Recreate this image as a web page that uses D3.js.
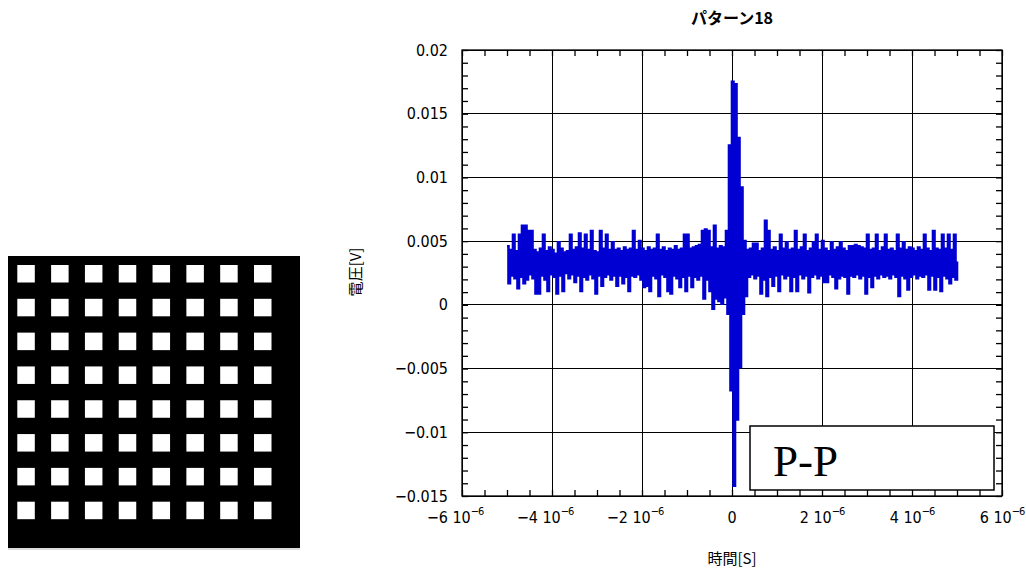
<!DOCTYPE html>
<html><head><meta charset="utf-8">
<script src="https://cdn.jsdelivr.net/npm/d3@7"></script>
<style>body{margin:0;background:#fff}svg{display:block}</style>
</head><body>
<svg id="c" width="1026" height="574"></svg>
<script>
// ---- data ----
const chartTitle = "パターン18";
const xLabel = "時間[S]";
const yLabel = "電圧[V]";
const annotation = "P-P";
const xDomain = [-6e-6, 6e-6];
const yDomain = [-0.015, 0.02];
const xTicks = [-6e-6, -4e-6, -2e-6, 0, 2e-6, 4e-6, 6e-6];
const xTickMantissa = ["−6", "−4", "−2", "0", "2", "4", "6"];
const xTickExponent = ["−6", "−6", "−6", "", "−6", "−6", "−6"];
const yTicks = [-0.015, -0.01, -0.005, 0, 0.005, 0.01, 0.015, 0.02];
const yTickLabels = ["−0.015", "−0.01", "−0.005", "0", "0.005", "0.01", "0.015", "0.02"];
const sampleStart = -5e-6;          // s
const sampleInterval = 1e-5 / 300;  // s
const signal_mV = [
  4.6,1.7,4.3,2.3,5.5,2.1,4.2,1.3,5.5,2.2,
  6.2,1.7,6.2,2.0,5.8,2.4,5.8,2.1,4.3,0.9,
  4.1,0.9,4.4,2.3,5.5,2.0,4.2,1.1,4.5,2.4,
  4.3,2.2,4.0,0.9,4.9,2.3,4.4,1.1,4.1,2.5,
  4.2,2.1,5.5,2.4,4.3,1.8,4.5,2.3,5.6,1.1,
  4.4,2.2,5.5,2.0,4.3,2.4,5.8,2.1,4.2,0.9,
  4.1,2.3,5.8,1.5,4.4,2.2,5.5,2.4,4.3,2.0,
  4.9,2.3,4.3,1.5,4.4,2.3,4.2,1.7,4.5,2.2,
  4.3,1.1,4.4,2.3,5.8,2.2,4.3,2.4,5.0,2.0,
  4.4,1.4,4.2,1.5,4.5,1.1,4.3,2.3,4.4,2.1,
  5.5,0.7,4.3,2.4,4.5,2.2,4.2,1.1,4.4,0.9,
  4.3,2.3,4.6,2.1,4.3,1.4,4.4,2.2,5.5,1.1,
  5.5,2.3,4.4,1.4,4.5,2.2,4.6,2.0,4.7,2.3,
  5.8,0.5,5.9,2.0,5.8,1.1,4.5,-0.3,6.2,0.5,
  4.4,0.3,4.6,0.1,4.5,0.6,5.8,-0.7,12.5,-6.7,
  17.5,-14.2,17.3,-9.0,13.1,-4.9,9.2,-0.7,5.0,0.7,
  4.3,2.2,4.4,2.4,4.8,2.1,4.8,2.3,4.2,0.9,
  4.4,2.0,6.6,0.7,5.8,2.2,4.3,1.5,4.5,2.3,
  4.2,1.1,5.5,2.4,4.4,2.1,4.9,2.3,4.3,1.1,
  4.4,2.2,5.8,1.1,4.3,2.4,4.5,2.1,5.5,2.3,
  4.2,1.0,4.4,2.2,4.9,2.4,5.5,2.1,4.3,2.3,
  5.0,1.8,4.4,1.8,4.2,2.4,4.9,2.2,4.3,1.3,
  4.5,2.1,4.9,2.3,4.4,2.2,4.2,0.9,4.6,2.3,
  4.6,2.2,4.7,2.4,4.6,2.1,4.5,2.3,4.4,0.9,
  5.5,2.2,4.3,1.4,4.4,2.3,5.5,2.1,4.2,2.4,
  4.5,2.2,5.5,2.3,4.3,2.1,4.4,2.4,4.2,2.2,
  5.5,0.7,4.4,2.3,4.9,2.1,4.3,1.2,4.5,2.2,
  4.4,2.4,4.2,2.1,4.5,2.3,4.3,2.2,5.5,2.4,
  4.4,1.2,4.2,2.3,5.8,1.2,4.4,2.2,4.3,1.1,
  5.5,2.3,4.4,2.1,5.5,1.7,4.3,2.2,5.5,2.0,
  3.4
];
// 8x8 aperture pattern (1 = open square)
const patternGrid = [
  "11111111","11111111","11111111","11111111",
  "11111111","11111111","11111111","11111111"
];

// ---- drawing ----
const svg = d3.select("#c");
const L = 462, R = 1002, T = 50, B = 496;
const x = d3.scaleLinear(xDomain, [L, R]);
const y = d3.scaleLinear(yDomain, [B, T]);
const numFont = "'Liberation Sans Narrow','DejaVu Sans Condensed','Liberation Sans',sans-serif";
const jpFont = "'Noto Sans CJK JP','Noto Sans CJK SC',sans-serif";

// left pattern image
const img = svg.append("g");
img.append("rect").attr("x", 8).attr("y", 256).attr("width", 292).attr("height", 292).attr("fill", "#000");
img.append("line").attr("x1", 8).attr("x2", 300).attr("y1", 549).attr("y2", 549).attr("stroke", "#bbb");
const pc = d3.scaleLinear([0, 7], [17.3, 254]);
const pr = d3.scaleLinear([0, 7], [265, 501.7]);
const cells = [];
patternGrid.forEach((row, r) => row.split("").forEach((v, c) => { if (v === "1") cells.push({r, c}); }));
img.selectAll("rect.cell").data(cells).join("rect").attr("class", "cell")
  .attr("x", d => pc(d.c)).attr("y", d => pr(d.r))
  .attr("width", 17.5).attr("height", 17.5).attr("fill", "#fff");

// grid
const g = svg.append("g");
g.selectAll("line.vg").data(xTicks).join("line").attr("class", "vg")
  .attr("x1", d => x(d)).attr("x2", d => x(d)).attr("y1", T).attr("y2", B)
  .attr("stroke", "#000").attr("stroke-width", 1).attr("shape-rendering", "crispEdges");
g.selectAll("line.hg").data(yTicks).join("line").attr("class", "hg")
  .attr("x1", L).attr("x2", R).attr("y1", d => y(d)).attr("y2", d => y(d))
  .attr("stroke", "#000").attr("stroke-width", 1).attr("shape-rendering", "crispEdges");

// minor ticks on all four sides
const minorX = x.ticks(24), minorY = y.ticks(35);
function minor(axis, tr) {
  const a = svg.append("g").attr("transform", tr).call(axis);
  a.select(".domain").remove();
  a.selectAll("text").remove();
  a.selectAll("line").attr("stroke", "#000").attr("stroke-width", 1.3);
}
minor(d3.axisBottom(x).tickValues(minorX).tickSize(6), `translate(0,${T})`);
minor(d3.axisTop(x).tickValues(minorX).tickSize(6), `translate(0,${B})`);
minor(d3.axisRight(y).tickValues(minorY).tickSize(6), `translate(${L},0)`);
minor(d3.axisLeft(y).tickValues(minorY).tickSize(6), `translate(${R},0)`);

// signal
const pts = signal_mV.map((v, i) => [sampleStart + i * sampleInterval, v / 1000]);
svg.append("path").datum(pts)
  .attr("d", d3.line().x(d => x(d[0])).y(d => y(d[1])).curve(d3.curveStepAfter))
  .attr("fill", "none").attr("stroke", "#0000d2").attr("stroke-width", 2.6)
  .attr("stroke-linejoin", "miter");

// frame
svg.append("rect").attr("x", L).attr("y", T).attr("width", R - L).attr("height", B - T)
  .attr("fill", "none").attr("stroke", "#000").attr("stroke-width", 1.3);

// y tick labels
svg.selectAll("text.yl").data(yTicks).join("text").attr("class", "yl")
  .attr("x", 448).attr("y", d => y(d)).attr("dy", "0.35em").attr("text-anchor", "end")
  .attr("font-family", numFont).attr("font-size", 16).attr("fill", "#000")
  .text((d, i) => yTickLabels[i]);

// x tick labels
const xl = svg.selectAll("text.xl").data(xTicks).join("text").attr("class", "xl")
  .attr("x", (d, i) => x(d) + (d < 0 ? -7 : 0)).attr("y", 523).attr("text-anchor", "middle")
  .attr("font-family", numFont).attr("font-size", 16).attr("fill", "#000");
xl.each(function(d, i) {
  const t = d3.select(this);
  if (xTickExponent[i] === "") { t.text(xTickMantissa[i]); return; }
  t.append("tspan").text(xTickMantissa[i] + " 10");
  t.append("tspan").attr("dy", -8).attr("font-size", 11).attr("letter-spacing", -1).text(xTickExponent[i]);
});

// title & axis labels
svg.append("text").attr("x", 732).attr("y", 24).attr("text-anchor", "middle")
  .attr("font-family", jpFont).attr("font-weight", "bold").attr("font-size", 16).text(chartTitle);
svg.append("text").attr("x", 732).attr("y", 564).attr("text-anchor", "middle")
  .attr("font-family", jpFont).attr("font-size", 15).text(xLabel);
svg.append("text").attr("transform", "translate(361,272) rotate(-90)").attr("text-anchor", "middle")
  .attr("font-family", jpFont).attr("font-size", 15).text(yLabel);

// P-P annotation box
svg.append("rect").attr("x", 750).attr("y", 426).attr("width", 244).attr("height", 64)
  .attr("fill", "#fff").attr("stroke", "#000").attr("stroke-width", 1.5);
svg.append("text").attr("x", 773).attr("y", 476).attr("font-family", "'Liberation Serif','Times New Roman',serif")
  .attr("font-size", 45).attr("fill", "#000").text(annotation);
</script>
</body></html>
